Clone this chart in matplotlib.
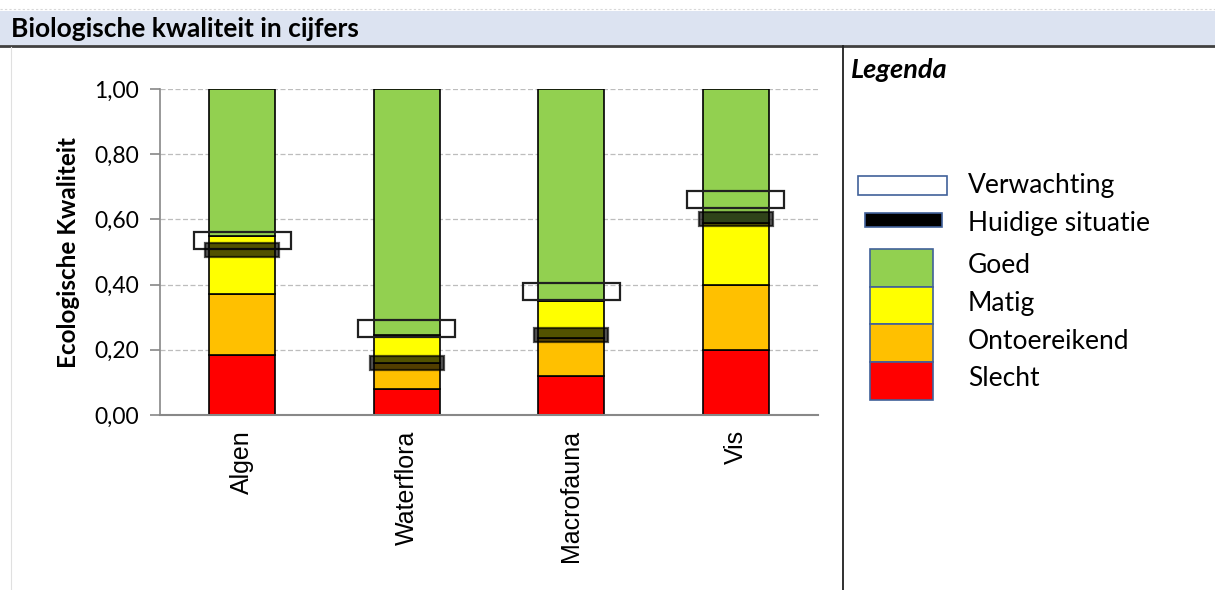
import matplotlib
matplotlib.use("Agg")
import matplotlib.pyplot as plt
from matplotlib.patches import Rectangle
from matplotlib.ticker import FuncFormatter

# ---------------------------------------------------------------------------
# data: class boundaries (top of each class) per quality element
# ---------------------------------------------------------------------------
categories = ["Algen", "Waterflora", "Macrofauna", "Vis"]
slecht_top = [0.185, 0.08, 0.12, 0.20]
ontoereikend_top = [0.37, 0.16, 0.235, 0.40]
matig_top = [0.55, 0.245, 0.35, 0.59]
goed_top = [1.00, 1.00, 1.00, 1.00]

verwachting = [0.535, 0.265, 0.38, 0.66]
huidige_situatie = [0.505, 0.16, 0.245, 0.60]

class_names = ["Goed", "Matig", "Ontoereikend", "Slecht"]
class_colors = ["#92D050", "#FFFF00", "#FFC000", "#FF0000"]

CALIBRI = ["Lato", "DejaVu Sans"]
ARIAL = ["Liberation Sans", "DejaVu Sans"]

W, H = 1215, 590
fig = plt.figure(figsize=(W / 100, H / 100), dpi=100)

# --- page decoration (header strip, separators) in pixel coordinates -------
deco = fig.add_axes([0, 0, 1, 1], zorder=-5)
deco.set_xlim(0, W)
deco.set_ylim(H, 0)
deco.axis("off")
deco.add_patch(Rectangle((0, 11), W, 34, facecolor="#DCE3F1", edgecolor="none"))
deco.plot([0, W], [9, 9], color="#D8D8D8", lw=0.8, ls=(0, (2, 2)))
deco.plot([0, W], [45.5, 45.5], color="#404040", lw=2)
deco.plot([10.5, 10.5], [47, H], color="#E0E0E0", lw=0.8)
deco.plot([843, 843], [46, H], color="#202020", lw=1.3)
deco.text(11, 29, "Biologische kwaliteit in cijfers", fontsize=19, fontweight="bold",
          family=CALIBRI, va="center", ha="left", color="black")

# --- chart ------------------------------------------------------------------
ax = fig.add_axes([160 / W, 1 - 415 / H, 658 / W, 326 / H])
x = list(range(len(categories)))
bar_w = 0.4

bottoms = [0.0] * len(categories)
tops = [slecht_top, ontoereikend_top, matig_top, goed_top]
for top, color in zip(tops, class_colors[::-1]):
    heights = [t - b for t, b in zip(top, bottoms)]
    ax.bar(x, heights, bar_w, bottom=bottoms, color=color, edgecolor="black",
           linewidth=1.2, zorder=2)
    bottoms = top

box_h = 0.052
band_h = 0.043
for xi, v in zip(x, verwachting):
    ax.add_patch(Rectangle((xi - 0.295, v - box_h / 2), 0.59, box_h, facecolor="none",
                           edgecolor="#202020", linewidth=1.6, zorder=3))
for xi, v in zip(x, huidige_situatie):
    ax.add_patch(Rectangle((xi - 0.225, v - band_h / 2), 0.45, band_h, facecolor="black",
                           alpha=0.68, edgecolor="black", linewidth=1.6, zorder=4))

ax.set_xlim(-0.5, 3.5)
ax.set_ylim(0, 1.0)
ax.set_yticks([0, 0.2, 0.4, 0.6, 0.8, 1.0])
ax.yaxis.set_major_formatter(FuncFormatter(lambda v, _: f"{v:.2f}".replace(".", ",")))
ax.set_xticks(x)
ax.set_xticklabels(categories, rotation=90, fontsize=18, family=ARIAL)
ax.tick_params(axis="x", length=0, pad=11)
ax.tick_params(axis="y", length=7, width=1.2, color="#888888", labelsize=16.5, pad=8)
for lbl in ax.get_yticklabels():
    lbl.set_family(CALIBRI)
ax.grid(axis="y", color="#BDBDBD", ls=(0, (4, 2)), lw=0.9, zorder=0)
ax.set_axisbelow(True)
for side in ("top", "right"):
    ax.spines[side].set_visible(False)
ax.spines["left"].set_color("#888888")
ax.spines["bottom"].set_color("#888888")
ax.spines["left"].set_linewidth(1.2)
ax.spines["bottom"].set_linewidth(1.5)
ax.set_ylabel("Ecologische Kwaliteit", fontsize=17.5, fontweight="bold", family=CALIBRI,
              labelpad=10)

# --- legend panel -----------------------------------------------------------
deco.text(851, 70, "Legenda", fontsize=19.5, fontweight="bold", style="italic",
          family=CALIBRI, va="center", ha="left")
deco.add_patch(Rectangle((858, 176), 89, 19, facecolor="white", edgecolor="#41619A", lw=1.2))
deco.add_patch(Rectangle((865, 213), 77, 14, facecolor="black", edgecolor="#41619A", lw=1.2))
deco.text(968, 185, "Verwachting", fontsize=19, family=CALIBRI, va="center")
deco.text(968, 224, "Huidige situatie", fontsize=19, family=CALIBRI, va="center")
patch_top = 249
patch_h = 37.7
for i, (name, color) in enumerate(zip(class_names, class_colors)):
    y0 = patch_top + i * patch_h
    deco.add_patch(Rectangle((870, y0), 63, patch_h, facecolor=color, edgecolor="#41619A",
                             lw=1.2))
    deco.text(968, y0 + patch_h / 2 - 2, name, fontsize=19, family=CALIBRI, va="center")

fig.savefig("out.png", dpi=100)
